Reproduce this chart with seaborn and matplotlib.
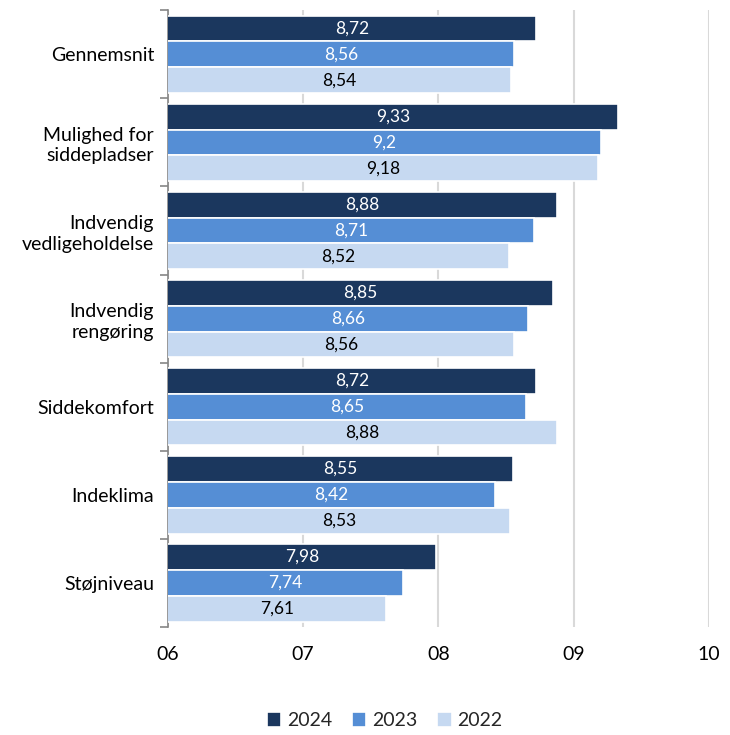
import matplotlib
matplotlib.use("Agg")
import matplotlib.pyplot as plt
import seaborn as sns
import pandas as pd
import numpy as np
from matplotlib.ticker import FixedLocator, FuncFormatter

categories = ["Gennemsnit", "Mulighed for\nsiddepladser", "Indvendig\nvedligeholdelse",
              "Indvendig\nrengøring", "Siddekomfort", "Indeklima", "Støjniveau"]
years = ["2024", "2023", "2022"]
v2024 = [8.72, 9.33, 8.88, 8.85, 8.72, 8.55, 7.98]
v2023 = [8.56, 9.20, 8.71, 8.66, 8.65, 8.42, 7.74]
v2022 = [8.54, 9.18, 8.52, 8.56, 8.88, 8.53, 7.61]
colors = ["#1b375e", "#558ed5", "#c6d9f1"]
text_colors = ["white", "white", "black"]

df = pd.DataFrame({
    "kategori": categories * 3,
    "år": [y for y in years for _ in categories],
    "værdi": v2024 + v2023 + v2022,
})

sns.set_theme(style="white")
plt.rcParams["font.family"] = ["Lato", "DejaVu Sans"]

fig = plt.figure(figsize=(7.3, 7.35), dpi=100)
ax = fig.add_axes([0.230, 0.147, 0.741, 0.839])

sns.barplot(data=df, y="kategori", x="værdi", hue="år", hue_order=years,
            order=categories, palette=colors, saturation=1, width=0.88, orient="h",
            edgecolor="white", linewidth=1.2, ax=ax, zorder=3)

ax.set_xlim(6, 10)
ax.set_ylim(len(categories) - 0.5, -0.5)
ax.xaxis.set_major_locator(FixedLocator([6, 7, 8, 9, 10]))
ax.xaxis.set_major_formatter(FuncFormatter(lambda x, p: f"{int(round(x)):02d}"))
ax.grid(axis="x", color="#d9d9d9", linewidth=1.5, zorder=0)
ax.grid(axis="y", visible=False)

for s in ["top", "right", "bottom"]:
    ax.spines[s].set_visible(False)
ax.spines["left"].set_color("#868686")
ax.spines["left"].set_linewidth(1.2)

# category labels at group centres, tick marks at group boundaries
ax.tick_params(axis="y", which="major", length=0, pad=10, labelsize=14, labelcolor="black")
ax.set_yticks(np.arange(len(categories)))
ax.set_yticklabels(categories, linespacing=1.25)
ax.set_yticks(np.arange(len(categories) + 1) - 0.5, minor=True)
ax.tick_params(axis="y", which="minor", length=6, width=1.2, color="#868686", left=True)
ax.tick_params(axis="x", length=0, pad=14, labelsize=14, labelcolor="black")
ax.set_xlabel("")
ax.set_ylabel("")

for container, tc in zip(ax.containers, text_colors):
    for bar in container:
        val = bar.get_width()
        y = bar.get_y() + bar.get_height() / 2
        ax.text((6 + val) / 2, y, f"{val:.2f}".rstrip("0").replace(".", ","),
                ha="center", va="center", color=tc, fontsize=12.5, zorder=4)

handles, labels = ax.get_legend_handles_labels()
fig.legend(handles, labels, loc="lower center", bbox_to_anchor=(0.527, -0.016),
           ncol=3, frameon=False, fontsize=14, handlelength=0.75, handleheight=0.75,
           handletextpad=0.3, columnspacing=1.0)
if ax.get_legend() is not None:
    ax.get_legend().remove()

fig.savefig("out.png", dpi=100)
